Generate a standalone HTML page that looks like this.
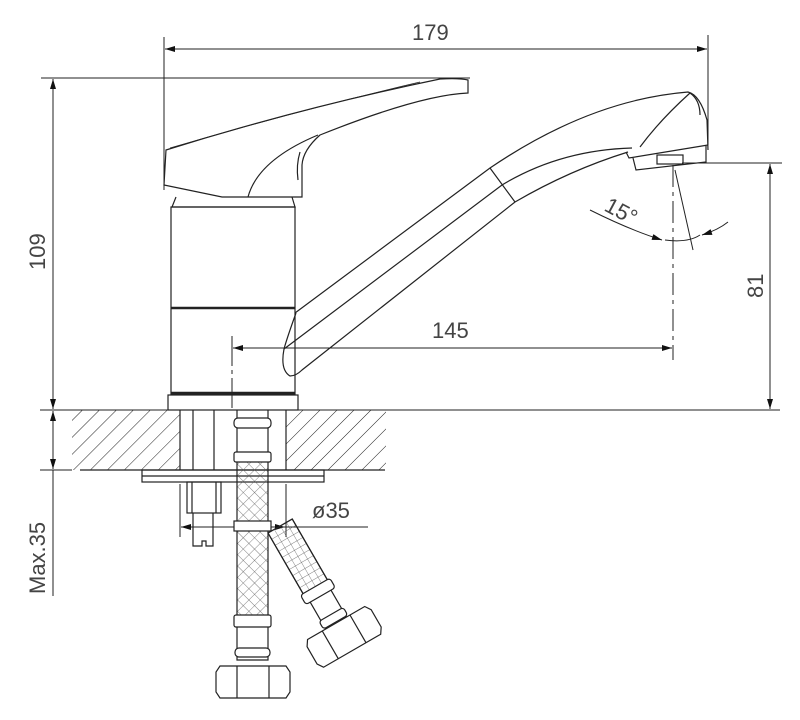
<!DOCTYPE html>
<html><head><meta charset="utf-8"><style>
html,body{margin:0;padding:0;background:#fff;}
svg{display:block;}
text{font-family:"Liberation Sans",sans-serif;fill:#444;font-size:22px;}
</style></head><body>
<svg width="800" height="720" viewBox="0 0 800 720" xmlns="http://www.w3.org/2000/svg">
<defs>
<pattern id="hatch" patternUnits="userSpaceOnUse" width="12" height="12" patternTransform="rotate(45)">
<line x1="0" y1="0" x2="0" y2="12" stroke="#222" stroke-width="1"/>
</pattern>
<pattern id="mesh" patternUnits="userSpaceOnUse" width="8" height="8" patternTransform="rotate(45)">
<path d="M0 0H8M0 0V8" stroke="#555" stroke-width="0.7" fill="none"/>
</pattern>
<pattern id="grid" patternUnits="userSpaceOnUse" width="7" height="7">
<path d="M0 0H7M0 0V7" stroke="#555" stroke-width="0.7" fill="none"/>
</pattern>
<marker id="a" viewBox="0 0 10 6" refX="10" refY="3" markerWidth="16" markerHeight="6" markerUnits="userSpaceOnUse" orient="auto-start-reverse">
<path d="M0 0L10 3L0 6Z" fill="#111"/>
</marker>
</defs>
<g stroke="#222" stroke-width="1" fill="none">
<line x1="164" y1="37" x2="164" y2="190"/>
<line x1="708" y1="35" x2="708" y2="145"/>
<line x1="165" y1="49" x2="707" y2="49" marker-start="url(#a)" marker-end="url(#a)"/>
<line x1="41" y1="78" x2="470" y2="78"/>
<line x1="53" y1="79" x2="53" y2="409" marker-start="url(#a)" marker-end="url(#a)"/>
<line x1="40" y1="410" x2="780" y2="410"/>
<line x1="40" y1="470" x2="72" y2="470"/>
<line x1="53" y1="411" x2="53" y2="469" marker-start="url(#a)" marker-end="url(#a)"/>
<line x1="53" y1="470" x2="53" y2="596"/>
<line x1="682" y1="163" x2="782" y2="163"/>
<line x1="770" y1="164" x2="770" y2="409" marker-start="url(#a)" marker-end="url(#a)"/>
<line x1="232" y1="336" x2="232" y2="410" stroke-dasharray="30 4 4 4"/>
<line x1="233" y1="348" x2="672" y2="348" marker-start="url(#a)" marker-end="url(#a)"/>
<line x1="673" y1="165" x2="673" y2="360" stroke-dasharray="22 5 4 5"/>
<line x1="675" y1="170" x2="693" y2="250"/>
<path d="M590 210 Q630 230 662 240" marker-end="url(#a)"/>
<path d="M665 240 Q688 243 700 235" />
<path d="M728 222 Q718 230 702 235" marker-end="url(#a)"/>
</g>
<rect x="72" y="410" width="108" height="60" fill="url(#hatch)"/>
<rect x="286" y="410" width="100" height="60" fill="url(#hatch)"/>
<g stroke="#222" stroke-width="1.2" fill="none">
<line x1="80" y1="470" x2="385" y2="470"/>
<line x1="180" y1="410" x2="180" y2="470"/>
<line x1="286" y1="410" x2="286" y2="470"/>
<line x1="193" y1="410" x2="193" y2="470"/>
<line x1="214" y1="410" x2="214" y2="470"/>
<rect x="142" y="470" width="182" height="12"/>
<line x1="142" y1="476" x2="324" y2="476"/>
<rect x="187" y="482" width="34" height="31"/>
<line x1="192" y1="482" x2="192" y2="513"/><line x1="216" y1="482" x2="216" y2="513"/>
<path d="M193 513V546H202V541H206V546H213V513"/>
<line x1="180" y1="484" x2="180" y2="537" stroke-width="1"/>
<line x1="286" y1="484" x2="286" y2="537" stroke-width="1"/>
<line x1="181" y1="527" x2="368" y2="527" stroke-width="1"/>
<line x1="198" y1="527" x2="181" y2="527" stroke-width="1" marker-end="url(#a)"/>
<line x1="268" y1="527" x2="285" y2="527" stroke-width="1" marker-end="url(#a)"/>
<path d="M176 197L172 207H295L292 197"/>
<rect x="171" y="207" width="124" height="187"/>
<line x1="171" y1="308" x2="295" y2="308" stroke-width="2.5"/>
<line x1="171" y1="393" x2="295" y2="393" stroke-width="2.5"/>
<rect x="168" y="395" width="130" height="15"/>
<path d="M164 185L166 150Q300 108 440 79Q460 78 468 80V93Q420 95 320 135Q303 150 302 165V197H222Z" fill="#fff"/>
<path d="M318 135Q258 160 248 197"/>
<path d="M300 152Q296 165 298 180"/>
<path d="M170 148Q300 110 420 82" stroke-width="0.7"/>
<path d="M295 313L490 168Q590 100 688 92Q700 95 707 120L708 150"/>
<path d="M284 349L502 185Q560 150 632 148"/>
<path d="M284 349Q287 338 296 313"/>
<path d="M284 349Q280 370 290 376Q296 376 302 370L515 202Q570 170 628 152"/>
<line x1="490" y1="168" x2="515" y2="202"/>
<path d="M640 147Q660 120 690 93"/>
<path d="M690 93Q700 100 700 115"/>
<path d="M626 152L629 158L708 145"/>
<path d="M633 158L636 170L706 162V146"/>
<rect x="657" y="155" width="26" height="9"/>
<!-- vertical hose -->
<rect x="237" y="462" width="31" height="156" fill="url(#mesh)" stroke="none"/>
<path d="M237 410V618M268 410V618"/>
<rect x="234" y="418" width="37" height="10" rx="4" fill="#fff"/>
<rect x="234" y="452" width="37" height="10" rx="2" fill="#fff"/>
<rect x="234" y="521" width="37" height="10" fill="#fff"/>
<rect x="234" y="615" width="37" height="12" rx="2" fill="#fff"/>
<path d="M237 627V660H268V627"/>
<rect x="235" y="648" width="35" height="9" rx="4" fill="#fff"/>
<path d="M220 666H286L290 672V692L286 698H220L216 692V672Z" fill="#fff"/>
<line x1="237" y1="666" x2="237" y2="698"/><line x1="269" y1="666" x2="269" y2="698"/>
<!-- angled hose -->
<g transform="translate(268 533) rotate(-30)">
<rect x="0" y="0" width="28" height="72" fill="url(#grid)"/>
<path d="M0 0V72M28 0V72"/>
<rect x="-3" y="70" width="34" height="11" rx="3" fill="#fff"/>
<path d="M2 81V112H26V81"/>
<rect x="0" y="102" width="28" height="9" rx="3" fill="#fff"/>
<path d="M-19 112H47L51 118V138L47 144H-19L-23 138V118Z" fill="#fff"/>
<line x1="-2" y1="112" x2="-2" y2="144"/><line x1="30" y1="112" x2="30" y2="144"/>
</g>
</g>
<text x="412" y="40">179</text>
<text x="432" y="338">145</text>
<text x="312" y="518">ø35</text>
<text transform="translate(45 270) rotate(-90)">109</text>
<text transform="translate(763 298) rotate(-90)">81</text>
<text transform="translate(45 594) rotate(-90)">Max.35</text>
<text transform="translate(603 210) rotate(28)">15°</text>
</svg>
</body></html>
